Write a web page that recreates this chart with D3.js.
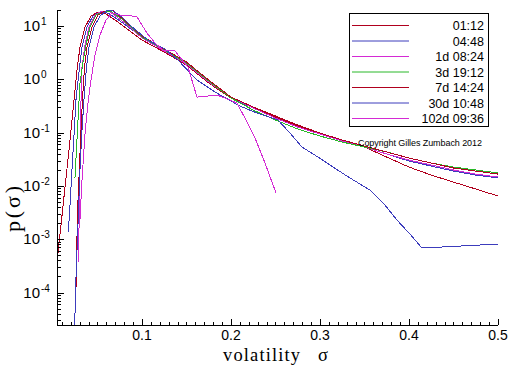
<!DOCTYPE html>
<html>
<head>
<meta charset="utf-8">
<script src="https://cdn.jsdelivr.net/npm/d3@7"></script>
<style>
    body { margin: 0; background: #fff; }
    svg { display: block; }
</style>
</head>
<body>
<script>
// horizon labels and line colours
const seriesLabels = ["01:12", "04:48", "1d 08:24", "3d 19:12", "7d 14:24", "30d 10:48", "102d 09:36"];
const seriesColors = ["#b0001e", "#3c3cbc", "#d42ad4", "#28b828", "#b0001e", "#3c3cbc", "#d42ad4"];

// shared sigma grid for the tails of the first five horizons
const sigmaTail = [0.1, 0.125, 0.15, 0.175, 0.2, 0.225, 0.25, 0.275, 0.3, 0.325, 0.35, 0.375, 0.4, 0.425, 0.45, 0.475, 0.5];

const sigma0112 = [0.0045, 0.009, 0.0135, 0.018, 0.0225, 0.027, 0.0303, 0.036, 0.0427, 0.0506, 0.0596, 0.073, 0.0865];
const p0112 = [0.000373, 0.00185, 0.00953, 0.0472, 0.265, 1.49, 4.04, 9.58, 15.4, 18.3, 16.8, 11.9, 8.06,
    5.46, 3.25, 1.85, 0.853, 0.446, 0.302, 0.205, 0.139, 0.0982, 0.0726, 0.0537, 0.0348, 0.0226, 0.0160, 0.0118, 0.00875, 0.00647];

const sigma0448 = [0.0172, 0.0191, 0.0213, 0.0236, 0.0258, 0.0298, 0.0326, 0.0382, 0.0449, 0.0528, 0.0618, 0.0753, 0.0876];
const p0448 = [0.00136, 0.00438, 0.0199, 0.0901, 0.409, 1.70, 4.04, 9.58, 15.4, 18.3, 17.5, 12.4, 8.79,
    6.22, 3.55, 2.02, 0.929, 0.446, 0.290, 0.188, 0.127, 0.0942, 0.0696, 0.0537, 0.0397, 0.0293, 0.0236, 0.0190, 0.0160, 0.0141];

const sigma1d = [0.0286, 0.0292, 0.0298, 0.0303, 0.0309, 0.0315, 0.0326, 0.036, 0.0404, 0.0472, 0.0551, 0.0642, 0.0764, 0.0888];
const p1d = [0.000373, 0.00149, 0.00544, 0.0199, 0.0901, 0.409, 1.70, 4.40, 9.58, 16.1, 19.1, 18.3, 13.0, 8.79,
    5.96, 3.40, 1.94, 0.89, 0.465, 0.290, 0.188, 0.127, 0.0942, 0.0696, 0.0537, 0.0397, 0.0306, 0.0247, 0.0199, 0.0167, 0.0147];

const sigma3d = [0.0247, 0.0275, 0.0303, 0.0337, 0.0371, 0.0416, 0.0483, 0.0562, 0.0652, 0.0775, 0.0888];
const p3d = [0.0141, 0.112, 0.853, 2.11, 4.40, 9.58, 16.1, 18.3, 18.7, 13.5, 9.17,
    6.22, 3.55, 2.02, 0.929, 0.446, 0.265, 0.172, 0.117, 0.0863, 0.0666, 0.0537, 0.0433, 0.0334, 0.0269, 0.0226, 0.0199, 0.0175];

const sigma7d = [0.0258, 0.0264, 0.027, 0.0281, 0.0298, 0.0315, 0.0331, 0.0354, 0.0382, 0.0438, 0.0506, 0.0584, 0.0674, 0.0787, 0.0899];
const p7d = [0.000111, 0.000407, 0.00120, 0.00544, 0.0247, 0.112, 0.409, 1.70, 4.04, 9.58, 16.1, 19.1, 19.5, 13.5, 9.17,
    6.49, 3.70, 2.11, 0.97, 0.465, 0.302, 0.196, 0.133, 0.0982, 0.0726, 0.0561, 0.0433, 0.0334, 0.0269, 0.0217, 0.0190, 0.0167];

// the two longest horizons have their own sigma grids
const sigma30d = [0.0242, 0.0253, 0.027, 0.0287, 0.0303, 0.0326, 0.0348, 0.0376, 0.0404, 0.0461, 0.0528, 0.0596, 0.0663, 0.0775, 0.0865,
    0.1067, 0.1258, 0.1404, 0.1618, 0.182, 0.2101, 0.2292, 0.2528, 0.2663, 0.2798, 0.2978, 0.3146, 0.3337, 0.3562, 0.373, 0.3865, 0.4011, 0.4146, 0.4573, 0.5];
const p30d = [1.6e-5, 0.000111, 0.000627, 0.00353, 0.0199, 0.112, 0.409, 1.70, 4.04, 9.58, 15.4, 19.1, 19.9, 14.8, 10.4,
    5.46, 3.70, 2.30, 0.97, 0.578, 0.315, 0.233, 0.172, 0.0982, 0.0537, 0.0348, 0.0226, 0.0141, 0.00838, 0.00438, 0.00229, 0.00125, 0.000684, 0.000745, 0.000813];

const sigma102d = [0.0303, 0.0326, 0.036, 0.0393, 0.0427, 0.0472, 0.0528, 0.0596, 0.0663, 0.0753, 0.0831, 0.0944, 0.1056,
    0.1146, 0.1236, 0.1371, 0.1517, 0.1618, 0.1742, 0.1843, 0.1989, 0.2067, 0.2169, 0.227, 0.2382, 0.2506];
const p102d = [0.00229, 0.0129, 0.0982, 0.359, 0.97, 2.86, 6.78, 13.0, 17.5, 16.1, 16.1, 14.8, 7.39,
    4.80, 3.55, 3.40, 1.70, 0.465, 0.486, 0.507, 0.409, 0.359, 0.172, 0.0792, 0.0269, 0.00736];

const xTicks = [0.1, 0.2, 0.3, 0.4, 0.5];
const yExponents = [1, 0, -1, -2, -3, -4];

const WIDTH = 512, HEIGHT = 366;
const PLOT = {left: 57, right: 498, top: 10, bottom: 325};
const SANS = "'Liberation Sans', Arial, sans-serif";
const SERIF = "'Liberation Serif', 'DejaVu Serif', serif";

const sigmas = [sigma0112.concat(sigmaTail), sigma0448.concat(sigmaTail), sigma1d.concat(sigmaTail),
    sigma3d.concat(sigmaTail), sigma7d.concat(sigmaTail), sigma30d, sigma102d];
const probs = [p0112, p0448, p1d, p3d, p7d, p30d, p102d];
const series = seriesLabels.map((label, i) => ({
    label: label,
    color: seriesColors[i],
    values: sigmas[i].map((s, j) => ({sigma: s, p: probs[i][j]}))
}));

const svg = d3.select("body").append("svg")
    .attr("width", WIDTH)
    .attr("height", HEIGHT);

const x = d3.scaleLinear().domain([0.0045, 0.5]).range([PLOT.left, PLOT.right]);
const y = d3.scaleLog().domain([2.46e-5, 20]).range([PLOT.bottom, PLOT.top]);

svg.append("clipPath").attr("id", "plotClip")
    .append("rect")
    .attr("x", PLOT.left).attr("y", PLOT.top)
    .attr("width", PLOT.right - PLOT.left).attr("height", PLOT.bottom - PLOT.top);

// curves
let line = d3.line()
    .x(d => x(d.sigma))
    .y(d => y(d.p));

svg.append("g")
    .attr("clip-path", "url(#plotClip)")
    .selectAll("path")
    .data(series)
    .enter()
    .append("path")
    .attr("fill", "none")
    .attr("stroke", d => d.color)
    .attr("stroke-width", 1)
    .attr("shape-rendering", "crispEdges")
    .attr("d", d => line(d.values));

// y axis, ticks pointing inward
let yAxis = svg.append("g")
    .attr("stroke", "#000")
    .attr("shape-rendering", "crispEdges");
yAxis.append("line")
    .attr("x1", PLOT.left + 0.5).attr("x2", PLOT.left + 0.5)
    .attr("y1", PLOT.top).attr("y2", PLOT.bottom);

let yMinor = [];
for (let e = -5; e <= 1; e++) {
    for (let m = 2; m <= 9; m++) {
        let v = m * Math.pow(10, e);
        if (v >= y.domain()[0] && v <= y.domain()[1]) yMinor.push(v);
    }
}
yAxis.selectAll(".minor")
    .data(yMinor)
    .enter()
    .append("line")
    .attr("x1", PLOT.left).attr("x2", PLOT.left + 4)
    .attr("y1", d => Math.round(y(d)) + 0.5).attr("y2", d => Math.round(y(d)) + 0.5);
yAxis.selectAll(".major")
    .data(yExponents)
    .enter()
    .append("line")
    .attr("x1", PLOT.left).attr("x2", PLOT.left + 7)
    .attr("y1", d => Math.round(y(Math.pow(10, d))) + 0.5).attr("y2", d => Math.round(y(Math.pow(10, d))) + 0.5);

let yLabels = svg.append("g")
    .style("font-family", SANS)
    .attr("fill", "#000");
yExponents.forEach(e => {
    yLabels.append("text")
        .attr("x", 40)
        .attr("y", y(Math.pow(10, e)) + 5)
        .attr("text-anchor", "end")
        .style("font-size", "15px")
        .text("10");
    yLabels.append("text")
        .attr("x", 41)
        .attr("y", y(Math.pow(10, e)) - 1)
        .style("font-size", "10px")
        .text(String(e));
});

// x axis, ticks pointing up
let xAxis = svg.append("g")
    .attr("stroke", "#000")
    .attr("shape-rendering", "crispEdges");
xAxis.append("line")
    .attr("x1", PLOT.left).attr("x2", PLOT.right)
    .attr("y1", PLOT.bottom + 0.5).attr("y2", PLOT.bottom + 0.5);
xAxis.selectAll(".minor")
    .data(d3.range(1, 50).map(i => i / 100))
    .enter()
    .append("line")
    .attr("x1", d => Math.round(x(d)) + 0.5).attr("x2", d => Math.round(x(d)) + 0.5)
    .attr("y1", PLOT.bottom).attr("y2", PLOT.bottom - 3);
xAxis.selectAll(".major")
    .data(xTicks)
    .enter()
    .append("line")
    .attr("x1", d => Math.round(x(d)) + 0.5).attr("x2", d => Math.round(x(d)) + 0.5)
    .attr("y1", PLOT.bottom).attr("y2", PLOT.bottom - 6);

svg.append("g")
    .selectAll("text")
    .data(xTicks)
    .enter()
    .append("text")
    .attr("x", d => x(d))
    .attr("y", 340)
    .attr("text-anchor", "middle")
    .style("font-family", SANS)
    .style("font-size", "14px")
    .text(d => d.toFixed(1));

// axis titles
let xTitle = svg.append("text")
    .attr("y", 361)
    .style("font-family", SERIF)
    .style("font-size", "18.5px");
xTitle.append("tspan").attr("x", 223).attr("textLength", 77).text("volatility");
xTitle.append("tspan").attr("x", 318).text("σ");

svg.append("text")
    .attr("transform", "translate(20,209) rotate(-90)")
    .attr("text-anchor", "middle")
    .attr("textLength", 46)
    .style("font-family", SERIF)
    .style("font-size", "22px")
    .text("p(σ)");

// legend
let legend = svg.append("g");
legend.append("rect")
    .attr("x", 349.5).attr("y", 13.5)
    .attr("width", 139).attr("height", 113)
    .attr("fill", "#fff")
    .attr("stroke", "#000");
let rows = legend.selectAll(".row")
    .data(series)
    .enter()
    .append("g")
    .attr("transform", (d, i) => "translate(0," + (25 + i * 15.5) + ")");
rows.append("line")
    .attr("x1", 352).attr("x2", 409)
    .attr("y1", 0.5).attr("y2", 0.5)
    .attr("stroke", d => d.color)
    .attr("stroke-width", 1);
rows.append("text")
    .attr("x", 484)
    .attr("y", 5)
    .attr("text-anchor", "end")
    .style("font-family", SANS)
    .style("font-size", "12.5px")
    .text(d => d.label);

svg.append("text")
    .attr("x", 358)
    .attr("y", 146)
    .attr("textLength", 124)
    .style("font-family", SANS)
    .style("font-size", "9px")
    .text("Copyright Gilles Zumbach 2012");
</script>
</body>
</html>
